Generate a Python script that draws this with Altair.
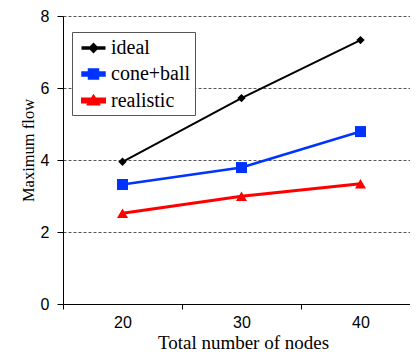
import altair as alt
import pandas as pd

nodes = [20, 30, 40]
series = ["ideal", "cone+ball", "realistic"]
ideal = [3.95, 5.72, 7.33]
cone_ball = [3.32, 3.79, 4.79]
realistic = [2.52, 2.99, 3.34]
colors = ["#000000", "#0033ff", "#ff0000"]
shapes = ["diamond", "square", "triangle-up"]
point_sizes = [70, 121, 121]
line_widths = [2, 3, 3]
y_ticks = [0, 2, 4, 6, 8]
x_ticks = [15, 20, 25, 30, 35, 40]

# legend symbols: line segment + marker, as unit-square SVG paths
legend_paths = [
    "M-1,-0.07L1,-0.07L1,0.07L-1,0.07Z M0,-0.37L0.37,0L0,0.37L-0.37,0Z",
    "M-1,-0.13L1,-0.13L1,0.13L-1,0.13Z M-0.41,-0.41L0.41,-0.41L0.41,0.41L-0.41,0.41Z",
    "M-1,-0.13L1,-0.13L1,0.13L-1,0.13Z M0,-0.36L0.43,0.32L-0.43,0.32Z",
]

rows = []
for name, vals in zip(series, [ideal, cone_ball, realistic]):
    for n, v in zip(nodes, vals):
        rows.append({"nodes": n, "flow": v, "series": name})
df = pd.DataFrame(rows)

SERIF = "Liberation Serif"
SANS = "Liberation Sans"

xs = alt.Scale(domain=[15, 44.16], nice=False, zero=False)
ys = alt.Scale(domain=[0, 8], nice=False)
cs = alt.Scale(domain=series, range=colors)

x_axis = alt.Axis(
    values=x_ticks,
    labelExpr="datum.value % 10 === 0 ? datum.label : ''",
    tickOpacity={"condition": {"test": "datum.value % 10 === 0", "value": 0}, "value": 1},
    tickSize=5, tickColor="black", domainColor="black", grid=False,
    labelFont=SANS, labelFontSize=16, labelColor="black",
    labelPadding=18.5, labelBaseline="alphabetic", labelFlush=False,
    title="Total number of nodes", titleFont=SERIF, titleFontSize=19,
    titleFontWeight="normal", titleColor="black", titleX=180, titleY=44,
    titleBaseline="alphabetic",
)
y_axis = alt.Axis(
    values=y_ticks, tickSize=6, tickColor="black", domainColor="black",
    grid=True, gridDash=[3, 2], gridColor="#555555",
    gridOpacity={"condition": {"test": "datum.value === 0", "value": 0}, "value": 1},
    labelFont=SANS, labelFontSize=16, labelColor="black", labelPadding=8,
    title="Maximum flow", titleFont=SERIF, titleFontSize=16.5,
    titleFontWeight="normal", titleColor="black", titleX=-30, titleY=134,
    titleBaseline="alphabetic", titleAlign="center", titleAngle=270,
)

base = alt.Chart(df)

leg = alt.Legend(
    orient="none", legendX=9, legendY=16, title=None, padding=4,
    symbolOffset=5, labelOffset=5, symbolSize=484, symbolStrokeWidth=0,
    rowPadding=3.5, labelFont=SERIF, labelFontSize=20, labelColor="black",
    strokeColor="#555555", fillColor="white", symbolOpacity=1,
)
legend_layer = base.transform_filter("false").mark_point(filled=True, opacity=1).encode(
    x=alt.X("nodes:Q", scale=xs, axis=x_axis),
    y=alt.Y("flow:Q", scale=ys, axis=y_axis),
    color=alt.Color("series:N", scale=cs, legend=leg),
    shape=alt.Shape("series:N", scale=alt.Scale(domain=series, range=legend_paths), legend=leg),
)

lines = base.mark_line().encode(
    x=alt.X("nodes:Q", scale=xs),
    y=alt.Y("flow:Q", scale=ys),
    color=alt.Color("series:N", scale=cs, legend=None),
    strokeWidth=alt.StrokeWidth("series:N", scale=alt.Scale(domain=series, range=line_widths), legend=None),
    detail="series:N",
)

point_layers = []
for name, shp, sz, col in zip(series, shapes, point_sizes, colors):
    point_layers.append(
        base.transform_filter(alt.datum.series == name)
        .mark_point(shape=shp, filled=True, size=sz, opacity=1, color=col)
        .encode(x=alt.X("nodes:Q", scale=xs), y=alt.Y("flow:Q", scale=ys))
    )

chart = alt.layer(legend_layer, lines, *point_layers).properties(
    width=347, height=288,
    autosize=alt.AutoSizeParams(type="none"),
    padding={"left": 55, "top": 8, "right": 0, "bottom": 48},
    background="white",
).configure_view(strokeWidth=0).configure_legend(
    labelFont=SERIF, labelFontSize=20
).configure_axisLeft(titleFont=SERIF, titleFontSize=16.5)

chart.save("out.html", embed_options={"renderer": "svg", "actions": False})
